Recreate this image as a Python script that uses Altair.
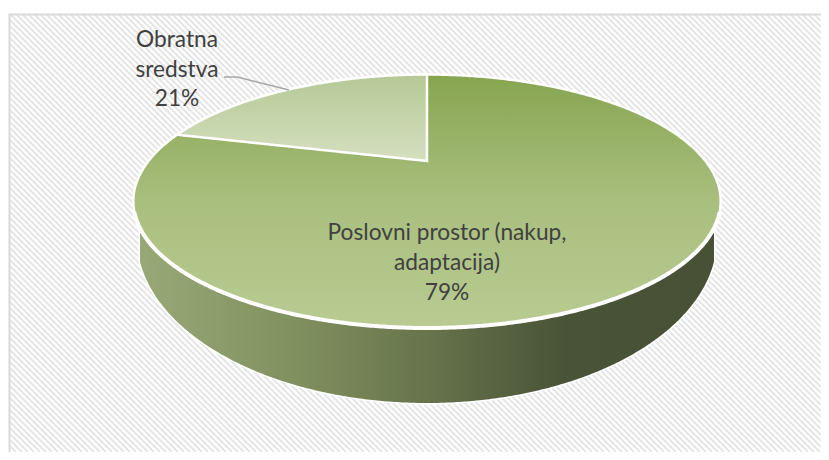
import numpy as np
import pandas as pd
import altair as alt

categories = ["Poslovni prostor (nakup,\nadaptacija)", "Obratna\nsredstva"]
shares = [79, 21]

# layout (page pixels)
CX, TOP, VERTEX, BOTTOM, XLEFT = 427.0, 74.5, 161.0, 328.0, 177.0
LEFT_PAGE, TOP_PAGE, W, H = 8, 8, 813, 444
PANEL = (10, 15, 821, 452)
xs = alt.Scale(domain=[LEFT_PAGE, LEFT_PAGE + W], range=[0, W], nice=False, zero=False)
ys = alt.Scale(domain=[TOP_PAGE + H, TOP_PAGE], range=[H, 0], nice=False, zero=False)
X = lambda f="x": alt.X(f"{f}:Q", scale=xs, axis=None)
Y = lambda f="y": alt.Y(f"{f}:Q", scale=ys, axis=None)

# perspective mapping of the unit pie to the picture
c = (2 * VERTEX - TOP - BOTTOM) / (TOP - BOTTOM)
a = TOP * (1 + c) - VERTEX
ang = 2 * np.pi * shares[1] / 100
u0, v0 = -np.sin(ang), np.cos(ang)
w0 = 1 + c * v0
d = (XLEFT - CX) * w0 / u0
x0 = CX + d * u0 / w0
y0 = (a * v0 + VERTEX) / w0
rx = d / np.sqrt(1 - c * c)
yc, ry = (TOP + BOTTOM) / 2, (BOTTOM - TOP) / 2


def arc(x):
    return ry * np.sqrt(np.clip(1 - ((x - CX) / rx) ** 2, 0, 1))


t = np.linspace(-np.pi / 2, np.pi / 2, 361)
ex = CX + rx * np.sin(t)
top_df = pd.DataFrame({"x": ex, "y": yc - arc(ex), "y2": yc + arc(ex)})

sx = np.linspace(x0, CX, 200)
slice_df = pd.DataFrame({
    "x": sx,
    "y": yc - arc(sx),
    "y2": y0 + (VERTEX - y0) * (sx - x0) / (CX - x0),
})

SIDE_RX, SIDE_YC, SIDE_RY, SIDE_LIM = 290.0, 238.0, 165.0, 287.0
sidex = CX + SIDE_LIM * np.sin(t)
side_y = SIDE_YC + SIDE_RY * np.sqrt(np.clip(1 - ((sidex - CX) / SIDE_RX) ** 2, 0, 1))
side_df = pd.DataFrame({"x": sidex, "y": yc + arc(sidex) - 2, "y2": side_y})

# background hatch
px0, py0, px1, py1 = PANEL
rows = []
for i, off in enumerate(np.arange(px0 - py1, px1 - py0, 6.0)):
    xa = max(px0, off + py0)
    xb = min(px1, off + py1)
    rows.append({"id": i, "x": xa, "y": xa - off})
    rows.append({"id": i, "x": xb, "y": xb - off})
hatch_df = pd.DataFrame(rows)

hatch = alt.Chart(hatch_df).mark_line(color="#E6E6E6", strokeWidth=2).encode(
    x=X(), y=Y(), detail="id:N")

border_df = pd.DataFrame({"x": [PANEL[0] - .5], "y": [PANEL[1] - .5], "x2": [PANEL[2] + 5], "y2": [PANEL[3] + 5]})
border = alt.Chart(border_df).mark_rect(fillOpacity=0, stroke="#DADADA", strokeWidth=2, clip=True).encode(
    x=X(), y=Y(), x2="x2:Q", y2="y2:Q")

side_halo = alt.Chart(side_df).mark_area(color="white", stroke="white", strokeWidth=3).encode(
    x=X(), y=Y(), y2="y2:Q")
side = alt.Chart(side_df).mark_area(
    color=alt.Gradient(gradient="linear", x1=0, y1=0, x2=1, y2=0, stops=[
        alt.GradientStop(offset=0, color="#98A876"),
        alt.GradientStop(offset=0.27, color="#81905F"),
        alt.GradientStop(offset=0.5, color="#67744C"),
        alt.GradientStop(offset=0.74, color="#495337"),
        alt.GradientStop(offset=1, color="#485136"),
    ])).encode(x=X(), y=Y(), y2="y2:Q")

top = alt.Chart(top_df).mark_area(
    stroke="white", strokeWidth=2.5,
    color=alt.Gradient(gradient="linear", x1=0, y1=0, x2=0, y2=1, stops=[
        alt.GradientStop(offset=0, color="#87A550"),
        alt.GradientStop(offset=0.5, color="#A9BF7E"),
        alt.GradientStop(offset=1, color="#B9CB92"),
    ])).encode(x=X(), y=Y(), y2="y2:Q")

front_edge = alt.Chart(top_df[top_df["x"].between(CX - rx + 1, CX + rx - 1)]).mark_line(
    color="white", strokeWidth=4).encode(x=X(), y=Y("y2"))

piece = alt.Chart(slice_df).mark_area(
    stroke="white", strokeWidth=2.5,
    color=alt.Gradient(gradient="linear", x1=0, y1=0, x2=0, y2=1, stops=[
        alt.GradientStop(offset=0, color="#B5C896"),
        alt.GradientStop(offset=1, color="#D5E0BF"),
    ])).encode(x=X(), y=Y(), y2="y2:Q")

leader_df = pd.DataFrame({"x": [224, 237, 289], "y": [77, 77, 90], "o": [0, 1, 2]})
leader = alt.Chart(leader_df).mark_line(color="#A6A6A6", strokeWidth=1.6).encode(
    x=X(), y=Y(), order="o:Q")

main_df = pd.DataFrame({"text": [f"{categories[0]}\n{shares[0]}%"], "x": [447], "y": [233]})
small_df = pd.DataFrame({"text": [f"{categories[1]}\n{shares[1]}%"], "x": [177], "y": [40]})
main_label = alt.Chart(main_df).mark_text(
    font="Lato", fontSize=22.7, color="#404040", align="center", baseline="middle",
    lineBreak="\n", lineHeight=30,
).encode(x=X(), y=Y(), text="text:N")
small_label = alt.Chart(small_df).mark_text(
    font="Lato", fontSize=22.7, color="#404040", align="center", baseline="middle",
    lineBreak="\n", lineHeight=29.5,
).encode(x=X(), y=Y(), text="text:N")

chart = alt.layer(hatch, border, side_halo, side, top, front_edge, piece, leader, main_label, small_label).properties(
    width=W, height=H, padding=0, background="white",
    autosize=alt.AutoSizeParams(type="none"),
).configure_view(stroke=None)

chart.save("out.html", embed_options={"renderer": "svg", "actions": False})
